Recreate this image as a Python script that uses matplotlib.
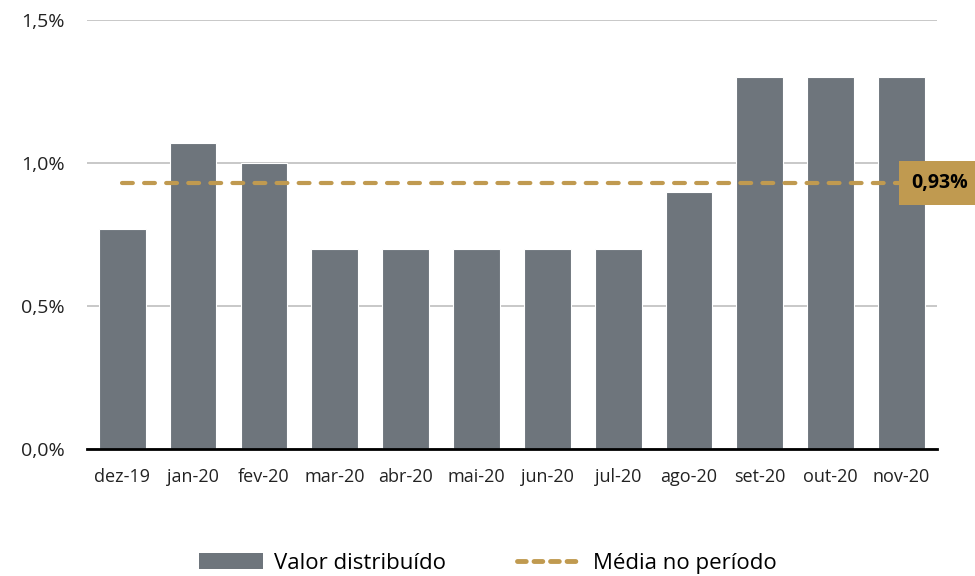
import matplotlib
matplotlib.use("Agg")
import matplotlib.pyplot as plt
from matplotlib.patches import Patch
from matplotlib.lines import Line2D

plt.rcParams['font.family'] = ['Open Sans', 'DejaVu Sans']

categories = ["dez-19", "jan-20", "fev-20", "mar-20", "abr-20", "mai-20",
              "jun-20", "jul-20", "ago-20", "set-20", "out-20", "nov-20"]
valores = [0.77, 1.07, 1.00, 0.70, 0.70, 0.70, 0.70, 0.70, 0.90, 1.30, 1.30, 1.30]
media = 0.93
yticks = [0.0, 0.5, 1.0, 1.5]
ytick_labels = ["0,0%", "0,5%", "1,0%", "1,5%"]

bar_color = "#6E757C"
gold = "#C09A50"
dash = (0, (2.6, 2.7))

fig = plt.figure(figsize=(9.75, 5.76), dpi=100)
ax = fig.add_axes([0.089, 0.2205, 0.872, 0.745])

x = list(range(len(categories)))
ax.bar(x, valores, width=0.66, color=bar_color, edgecolor="white", linewidth=0.8, zorder=2)
ax.plot([x[0], x[-1]], [media, media], color=gold, linewidth=3.0, linestyle=dash,
        dash_capstyle="round", zorder=3)
ax.text(x[-1] + 0.13, media, "0,93%", ha="left", va="center", fontsize=14, fontweight="bold",
        color="black", zorder=4, clip_on=False,
        bbox=dict(boxstyle="square,pad=0.6", facecolor=gold, edgecolor="none"))

ax.set_xlim(-0.5, len(categories) - 0.5)
ax.set_ylim(0, 1.5)
ax.set_yticks(yticks)
ax.set_yticklabels(ytick_labels, fontsize=14, color="#222222")
ax.set_xticks(x)
ax.set_xticklabels(categories, fontsize=13, color="#222222")
ax.tick_params(axis="both", length=0)
ax.tick_params(axis="x", pad=14)
ax.tick_params(axis="y", pad=16)
ax.grid(axis="y", color="#BFBFBF", linewidth=1.2, zorder=0)
ax.set_axisbelow(True)
for s in ["top", "right", "left"]:
    ax.spines[s].set_visible(False)
ax.spines["bottom"].set_linewidth(2)
ax.spines["bottom"].set_color("black")
ax.spines["bottom"].set_zorder(5)

handles = [Patch(facecolor=bar_color, edgecolor="none"),
           Line2D([0], [0], color=gold, linewidth=3.5, linestyle=(0, (1.8, 1.6)), dash_capstyle="round")]
fig.legend(handles, ["Valor distribuído", "Média no período"], loc="center",
           bbox_to_anchor=(0.5, 0.022), ncol=2, frameon=False, fontsize=16,
           handlelength=2.9, handleheight=0.7, handletextpad=0.5, columnspacing=3.2)

fig.savefig("out.png", dpi=100)
